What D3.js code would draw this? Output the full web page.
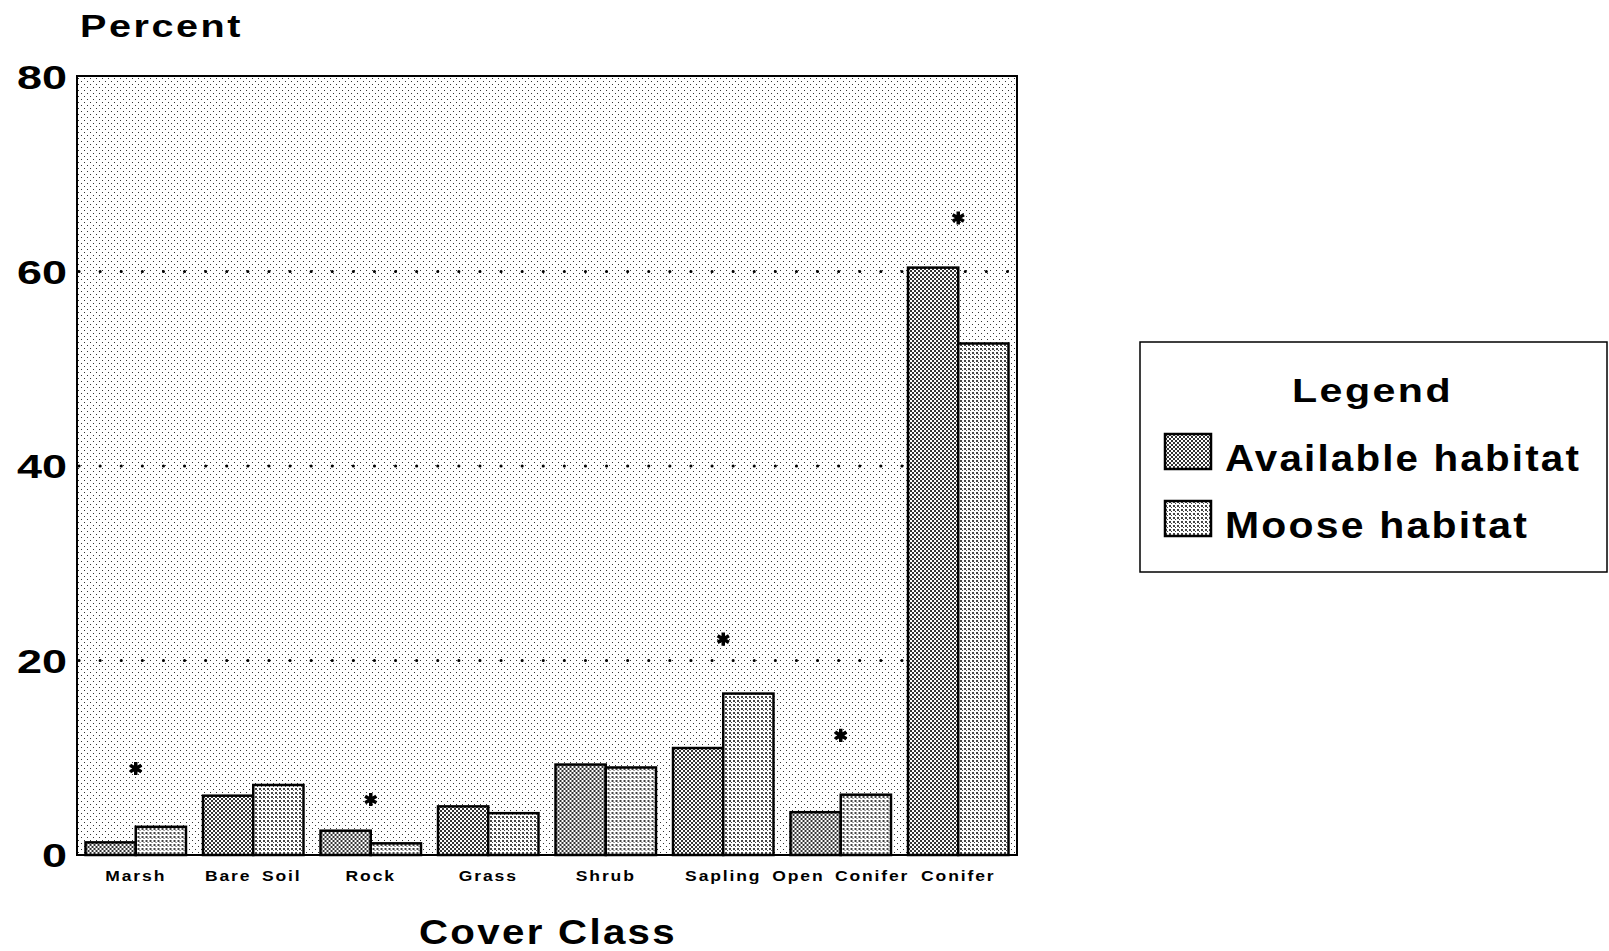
<!DOCTYPE html>
<html>
<head>
<meta charset="utf-8">
<script src="https://cdn.jsdelivr.net/npm/d3@7"></script>
<style>
  html, body { margin: 0; padding: 0; background: #fff; }
  svg { display: block; }
  text { font-family: "Liberation Sans", Arial, sans-serif; fill: #000; }
</style>
</head>
<body>
<svg id="chart"></svg>
<script>
// Values
const categories = ["Marsh", "Bare Soil", "Rock", "Grass", "Shrub", "Sapling", "Open Conifer", "Conifer"];
const availableValues = [1.3, 6.1, 2.5, 5.0, 9.3, 11.0, 4.4, 60.4];
const mooseValues = [2.9, 7.2, 1.2, 4.3, 9.0, 16.6, 6.2, 52.6];
// height (in percent units) of the significance star, null = no star
const starValues = [8.9, null, 5.7, null, null, 22.2, 12.3, 65.5];
const yTicks = [0, 20, 40, 60, 80];
const gridTicks = [20, 40, 60];
const seriesNames = ["Available habitat", "Moose habitat"];

const width = 1609;
const height = 951;
const plot = { left: 77, right: 1017, top: 77, bottom: 855 };

const svg = d3.select('#chart')
    .attr('width', width)
    .attr('height', height);

// the original lettering is a wide face: stretch text horizontally
function widen(sel, factor) {
    sel.each(function() {
        const len = this.getComputedTextLength();
        d3.select(this)
            .attr('textLength', len * factor)
            .attr('lengthAdjust', 'spacingAndGlyphs');
    });
}

// stipple patterns
const defs = svg.append('defs');

function addPattern(id, size, dots, dotColor) {
    const p = defs.append('pattern')
        .attr('id', id)
        .attr('patternUnits', 'userSpaceOnUse')
        .attr('width', size)
        .attr('height', size);
    p.append('rect').attr('width', size).attr('height', size).attr('fill', '#fff');
    dots.forEach(d => {
        p.append('rect')
            .attr('x', d[0]).attr('y', d[1])
            .attr('width', d[2]).attr('height', d[2])
            .attr('fill', dotColor)
            .attr('shape-rendering', 'crispEdges');
    });
}
addPattern('bg-dots', 6, [[0, 0, 1], [3, 3, 1]], '#333');
addPattern('avail-dots', 4, [[0, 0, 2], [2, 2, 2]], '#333');
addPattern('moose-dots', 4, [[0, 0, 2], [2, 2, 1]], '#444');

const fills = ['url(#avail-dots)', 'url(#moose-dots)'];

// scales
const x = d3.scaleBand()
    .domain(categories)
    .range([plot.left, plot.right])
    .paddingInner(0.145)
    .paddingOuter(0.0725);

const xSub = d3.scaleBand()
    .domain([0, 1])
    .range([0, x.bandwidth()]);

const y = d3.scaleLinear()
    .domain([0, 80])
    .range([plot.bottom, plot.top]);

// plot background
svg.append('rect')
    .attr('x', plot.left)
    .attr('y', plot.top)
    .attr('width', plot.right - plot.left)
    .attr('height', plot.bottom - plot.top)
    .attr('fill', 'url(#bg-dots)');

// dotted grid lines
svg.append('g')
    .selectAll('line')
    .data(gridTicks)
    .join('line')
    .attr('x1', plot.left + 2)
    .attr('x2', plot.right)
    .attr('y1', d => y(d))
    .attr('y2', d => y(d))
    .attr('stroke', '#000')
    .attr('stroke-width', 3)
    .attr('stroke-linecap', 'round')
    .attr('stroke-dasharray', '0.1,21');

// bars
const rows = categories.map((c, i) => ({ cat: c, values: [availableValues[i], mooseValues[i]] }));

const groups = svg.append('g')
    .selectAll('g')
    .data(rows)
    .join('g')
    .attr('transform', d => `translate(${x(d.cat)},0)`);

groups.selectAll('rect')
    .data(d => d.values.map((v, k) => ({ v, k })))
    .join('rect')
    .attr('x', d => xSub(d.k))
    .attr('y', d => y(d.v))
    .attr('width', xSub.bandwidth())
    .attr('height', d => y(0) - y(d.v))
    .attr('fill', d => fills[d.k])
    .attr('stroke', '#000')
    .attr('stroke-width', 2.5);

// significance stars
const starPath = d3.symbol().type(d3.symbolAsterisk).size(120);
svg.append('g')
    .selectAll('path')
    .data(categories.map((c, i) => ({ cat: c, v: starValues[i] })).filter(d => d.v !== null))
    .join('path')
    .attr('d', starPath)
    .attr('transform', d => `translate(${x(d.cat) + x.bandwidth() / 2},${y(d.v)})`)
    .attr('fill', 'none')
    .attr('stroke', '#000')
    .attr('stroke-width', 3.5);

// frame
svg.append('rect')
    .attr('x', plot.left)
    .attr('y', plot.top - 1)
    .attr('width', plot.right - plot.left)
    .attr('height', plot.bottom - plot.top + 1)
    .attr('fill', 'none')
    .attr('stroke', '#000')
    .attr('stroke-width', 2);

// y axis
const yAxis = svg.append('g')
    .attr('transform', `translate(${plot.left - 10},0)`)
    .call(d3.axisLeft(y).tickValues(yTicks).tickSize(0).tickPadding(0).tickFormat(d3.format('d')));
yAxis.select('.domain').remove();
yAxis.selectAll('text')
    .style('font-size', '33px')
    .style('font-weight', 'bold')
    .attr('dy', '0.36em')
    .attr('textLength', d => String(d).length * 25)
    .attr('lengthAdjust', 'spacingAndGlyphs');

// x axis
const xAxis = svg.append('g')
    .attr('transform', `translate(0,${plot.bottom})`)
    .call(d3.axisBottom(x).tickSize(0).tickPadding(0));
xAxis.select('.domain').remove();
xAxis.selectAll('text')
    .attr('y', 26)
    .attr('dy', 0)
    .style('font-size', '14px')
    .style('font-weight', 'bold')
    .style('letter-spacing', '1.5px')
    .style('word-spacing', '3px')
    .call(widen, 1.25);

// axis titles
svg.append('text')
    .attr('x', 80)
    .attr('y', 37)
    .attr('textLength', 163)
    .attr('lengthAdjust', 'spacingAndGlyphs')
    .style('font-size', '31px')
    .style('font-weight', 'bold')
    .style('letter-spacing', '2px')
    .text('Percent');

svg.append('text')
    .attr('x', 419)
    .attr('y', 944)
    .attr('textLength', 258)
    .attr('lengthAdjust', 'spacingAndGlyphs')
    .style('font-size', '35px')
    .style('font-weight', 'bold')
    .style('letter-spacing', '2px')
    .text('Cover Class');

// legend
const legend = svg.append('g');
legend.append('rect')
    .attr('x', 1140)
    .attr('y', 342)
    .attr('width', 467)
    .attr('height', 230)
    .attr('fill', '#fff')
    .attr('stroke', '#000')
    .attr('stroke-width', 1.5);

legend.append('text')
    .attr('x', 1292)
    .attr('y', 402)
    .attr('textLength', 161)
    .attr('lengthAdjust', 'spacingAndGlyphs')
    .style('font-size', '34px')
    .style('font-weight', 'bold')
    .style('letter-spacing', '2px')
    .text('Legend');

const legendWidths = [356, 304];
const legendItems = legend.selectAll('g.item')
    .data(seriesNames)
    .join('g')
    .attr('class', 'item')
    .attr('transform', (d, i) => `translate(1165,${434 + i * 67})`);

legendItems.append('rect')
    .attr('width', 46)
    .attr('height', 35)
    .attr('fill', (d, i) => fills[i])
    .attr('stroke', '#000')
    .attr('stroke-width', 2.5);

legendItems.append('text')
    .attr('x', 60)
    .attr('y', 37)
    .attr('textLength', (d, i) => legendWidths[i])
    .attr('lengthAdjust', 'spacingAndGlyphs')
    .style('font-size', '37px')
    .style('font-weight', 'bold')
    .style('letter-spacing', '2px')
    .text(d => d);
</script>
</body>
</html>
